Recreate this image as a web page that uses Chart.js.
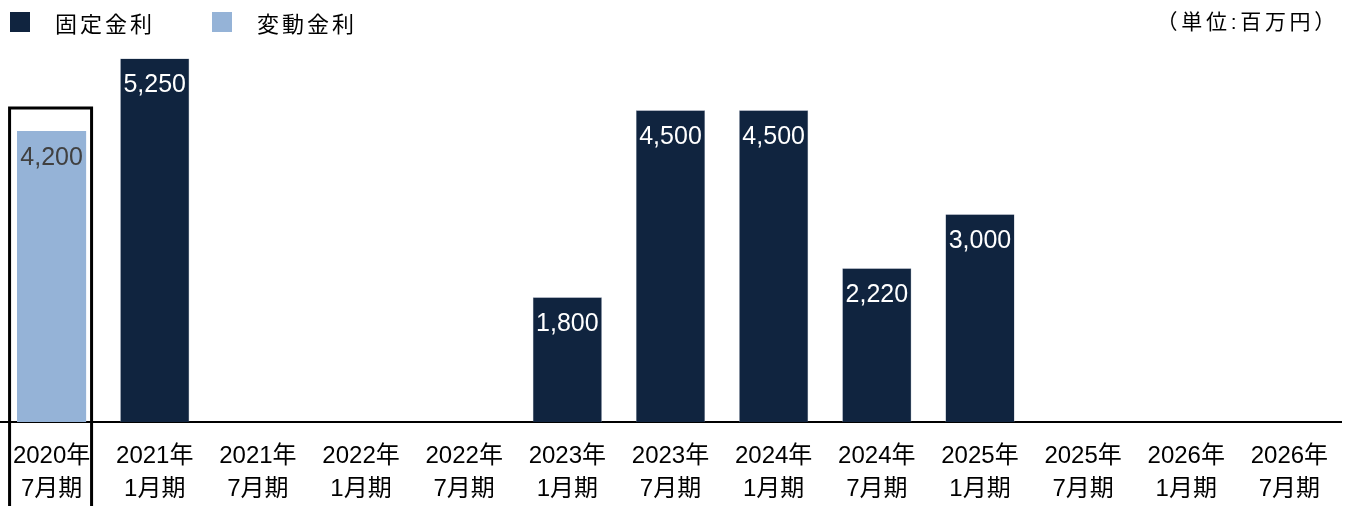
<!DOCTYPE html>
<html>
<head>
<meta charset="utf-8">
<script src="https://cdn.jsdelivr.net/npm/chart.js@4.4.1/dist/chart.umd.min.js"></script>
<style>
  body { margin: 0; background: #fff; font-family: "Liberation Sans", "Noto Sans CJK JP", sans-serif; }
  #wrap { position: relative; width: 1352px; height: 506px; }
  #legend { position: absolute; left: 10px; top: 6px; display: flex; font-size: 22px; letter-spacing: 3px; color: #000; }
  #legend .item { display: flex; align-items: center; margin-right: 57px; }
  #legend .box { width: 20px; height: 20px; margin-right: 25px; }
  #unit { position: absolute; right: 13px; top: 5px; font-size: 21px; letter-spacing: 3.7px; color: #000; }
</style>
</head>
<body>
<div id="wrap">
  <canvas id="chart" width="1352" height="506"></canvas>
  <div id="legend"></div>
  <div id="unit">（単位:百万円）</div>
</div>
<script>
const labels = [
  ['2020年', '7月期'], ['2021年', '1月期'], ['2021年', '7月期'], ['2022年', '1月期'],
  ['2022年', '7月期'], ['2023年', '1月期'], ['2023年', '7月期'], ['2024年', '1月期'],
  ['2024年', '7月期'], ['2025年', '1月期'], ['2025年', '7月期'], ['2026年', '1月期'],
  ['2026年', '7月期']
];
const fixedRate = [null, 5250, null, null, null, 1800, 4500, 4500, 2220, 3000, null, null, null];
const floatingRate = [4200, null, null, null, null, null, null, null, null, null, null, null, null];

const navy = '#10243f';
const lightBlue = '#95b3d7';
const fontFamily = '"Liberation Sans", "Noto Sans CJK JP", sans-serif';

// simple legend
const legendItems = [['固定金利', navy], ['変動金利', lightBlue]];
const legendEl = document.getElementById('legend');
legendItems.forEach(([text, color]) => {
  const item = document.createElement('div');
  item.className = 'item';
  item.innerHTML = '<span class="box" style="background:' + color + '"></span><span>' + text + '</span>';
  legendEl.appendChild(item);
});

// values written inside the bar tops
const barLabels = {
  id: 'barLabels',
  afterDatasetsDraw(chart) {
    const ctx = chart.ctx;
    ctx.save();
    ctx.font = '25px ' + fontFamily;
    ctx.textAlign = 'center';
    ctx.textBaseline = 'middle';
    chart.data.datasets.forEach((ds, i) => {
      const meta = chart.getDatasetMeta(i);
      meta.data.forEach((bar, j) => {
        const v = ds.data[j];
        if (v == null) return;
        ctx.fillStyle = ds.labelColor;
        ctx.fillText(v.toLocaleString('en-US'), bar.x, bar.y + 27);
      });
    });
    ctx.restore();
  }
};

// black frame around the current period
const frame = {
  id: 'frame',
  afterDraw(chart) {
    const x = chart.scales.x;
    const cx = x.getPixelForValue(0);
    const ctx = chart.ctx;
    ctx.save();
    ctx.strokeStyle = '#000';
    ctx.lineWidth = 3;
    ctx.beginPath();
    ctx.moveTo(cx - 42, chart.height + 5);
    ctx.lineTo(cx - 42, 108);
    ctx.lineTo(cx + 40, 108);
    ctx.lineTo(cx + 40, chart.height + 5);
    ctx.stroke();
    ctx.restore();
  }
};

new Chart('chart', {
  type: 'bar',
  data: {
    labels: labels,
    datasets: [
      { label: '固定金利', data: fixedRate, backgroundColor: navy, labelColor: '#ffffff',
        borderColor: '#8a96a8', borderWidth: 0.5 },
      { label: '変動金利', data: floatingRate, backgroundColor: lightBlue, labelColor: '#404040' }
    ]
  },
  options: {
    responsive: false,
    animation: false,
    layout: { padding: { top: 48, left: 0, right: 11, bottom: 0 } },
    datasets: { bar: { categoryPercentage: 1, barPercentage: 0.67 } },
    plugins: { legend: { display: false }, tooltip: { enabled: false } },
    scales: {
      x: {
        stacked: true,
        grid: { display: false },
        border: { display: true, color: '#000', width: 2 },
        afterFit(scale) { scale.height = 84; },
        ticks: {
          color: '#000',
          padding: 10,
          maxRotation: 0,
          autoSkip: false,
          font: { family: fontFamily, size: 24, lineHeight: 1.375 }
        }
      },
      y: {
        stacked: true,
        display: false,
        min: 0,
        max: 5400
      }
    }
  },
  plugins: [barLabels, frame]
});
</script>
</body>
</html>
